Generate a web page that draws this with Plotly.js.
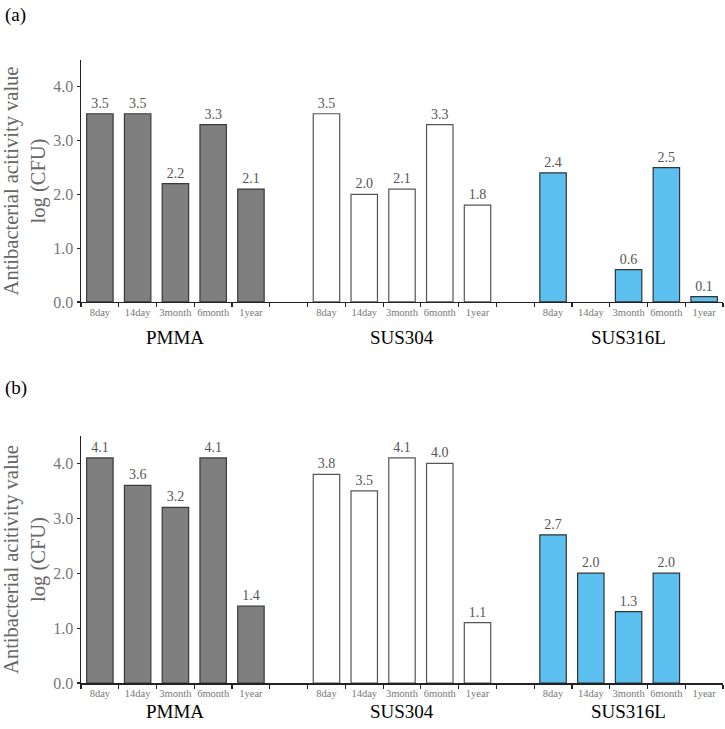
<!DOCTYPE html>
<html>
<head>
<meta charset="utf-8">
<script src="https://cdn.plot.ly/plotly-3.0.1.min.js"></script>
<style>html,body{margin:0;padding:0;background:#fff;}#chart{width:725px;height:729px;}</style>
</head>
<body>
<div id="chart"></div>
<script>
var groups = ["PMMA", "SUS304", "SUS316L"];
var periods = ["8day", "14day", "3month", "6month", "1year"];
// panel (a)
var aPMMA = [3.5, 3.5, 2.2, 3.3, 2.1];
var aSUS304 = [3.5, 2.0, 2.1, 3.3, 1.8];
var aSUS316L = [2.4, null, 0.6, 2.5, 0.1];
// panel (b)
var bPMMA = [4.1, 3.6, 3.2, 4.1, 1.4];
var bSUS304 = [3.8, 3.5, 4.1, 4.0, 1.1];
var bSUS316L = [2.7, 2.0, 1.3, 2.0, null];
var yTicks = [0, 1, 2, 3, 4];

var serif = "'Liberation Serif', 'Times New Roman', serif";
var fills = {PMMA: "#7f7f7f", SUS304: "#ffffff", SUS316L: "#5bc0f0"};
var lines = {PMMA: "#3a3a3a", SUS304: "#555555", SUS316L: "#333333"};

// category slots: 5 per group, with an empty slot between groups
var cats = [], tickText = [];
groups.forEach(function (g, gi) {
  periods.forEach(function (p) { cats.push(g + " " + p); tickText.push(p); });
  if (gi < groups.length - 1) { cats.push("gap" + gi); tickText.push(""); }
});

function xs(g) { return periods.map(function (p) { return g + " " + p; }); }

function trace(g, vals, xa, ya) {
  return {
    type: "bar", x: xs(g), y: vals, xaxis: xa, yaxis: ya,
    marker: {color: fills[g], line: {color: lines[g], width: 1.2}},
    text: vals.map(function (v) { return v == null ? "" : v.toFixed(1); }),
    textposition: "outside", cliponaxis: false,
    textfont: {family: serif, size: 14, color: "#555"},
    hoverinfo: "skip", showlegend: false
  };
}

var data = [
  trace("PMMA", aPMMA, "x2", "y2"),
  trace("SUS304", aSUS304, "x2", "y2"),
  trace("SUS316L", aSUS316L, "x2", "y2"),
  trace("PMMA", bPMMA, "x", "y"),
  trace("SUS304", bSUS304, "x", "y"),
  trace("SUS316L", bSUS316L, "x", "y")
];

function xaxis(anchor) {
  return {
    anchor: anchor, type: "category", categoryorder: "array", categoryarray: cats,
    range: [-0.5, cats.length - 0.5],
    tickmode: "array", tickvals: cats, ticktext: tickText, tickson: "boundaries",
    tickangle: 0,
    ticks: "outside", ticklen: 4, tickcolor: "#222", tickwidth: 1.2,
    showline: true, linecolor: "#222", linewidth: 1.5,
    tickfont: {family: serif, size: 10.5, color: "#777"},
    showgrid: false, zeroline: false, fixedrange: true
  };
}
function yaxis(anchor, domain) {
  return {
    anchor: anchor, domain: domain, range: [0, 4.5],
    tickmode: "array", tickvals: yTicks, tickformat: ".1f",
    ticks: "outside", ticklen: 3, tickcolor: "#222", tickwidth: 1.2,
    showline: true, linecolor: "#222", linewidth: 1.5,
    tickfont: {family: serif, size: 16, color: "#777"},
    showgrid: false, zeroline: false,
    title: {text: "Antibacterial acitivity value<br>log (CFU)", font: {family: serif, size: 20.5, color: "#666"}, standoff: 4}
  };
}

var annotations = [
  {text: "(a)", xref: "paper", yref: "paper", x: -0.122, y: 1.072, xanchor: "left", yanchor: "middle", showarrow: false, font: {family: serif, size: 19, color: "#000"}},
  {text: "(b)", xref: "paper", yref: "paper", x: -0.122, y: 0.4735, xanchor: "left", yanchor: "middle", showarrow: false, font: {family: serif, size: 19, color: "#000"}}
];
groups.forEach(function (g) {
  var mid = g + " " + periods[2];
  annotations.push({text: g, xref: "x2", yref: "y2 domain", x: mid, y: -0.148, yanchor: "middle", showarrow: false, font: {family: serif, size: 19, color: "#000"}});
  annotations.push({text: g, xref: "x", yref: "y domain", x: mid, y: -0.115, yanchor: "middle", showarrow: false, font: {family: serif, size: 19, color: "#000"}});
});

var layout = {
  width: 725, height: 729,
  margin: {l: 81, r: 2, t: 60, b: 46},
  paper_bgcolor: "#fff", plot_bgcolor: "#fff",
  barmode: "overlay", bargap: 0.3,
  xaxis: xaxis("y"), yaxis: yaxis("x", [0, 0.3965]),
  xaxis2: xaxis("y2"), yaxis2: yaxis("x2", [0.6116, 1]),
  annotations: annotations,
  font: {family: serif}
};

Plotly.newPlot("chart", data, layout, {displayModeBar: false, staticPlot: true});
</script>
</body>
</html>
